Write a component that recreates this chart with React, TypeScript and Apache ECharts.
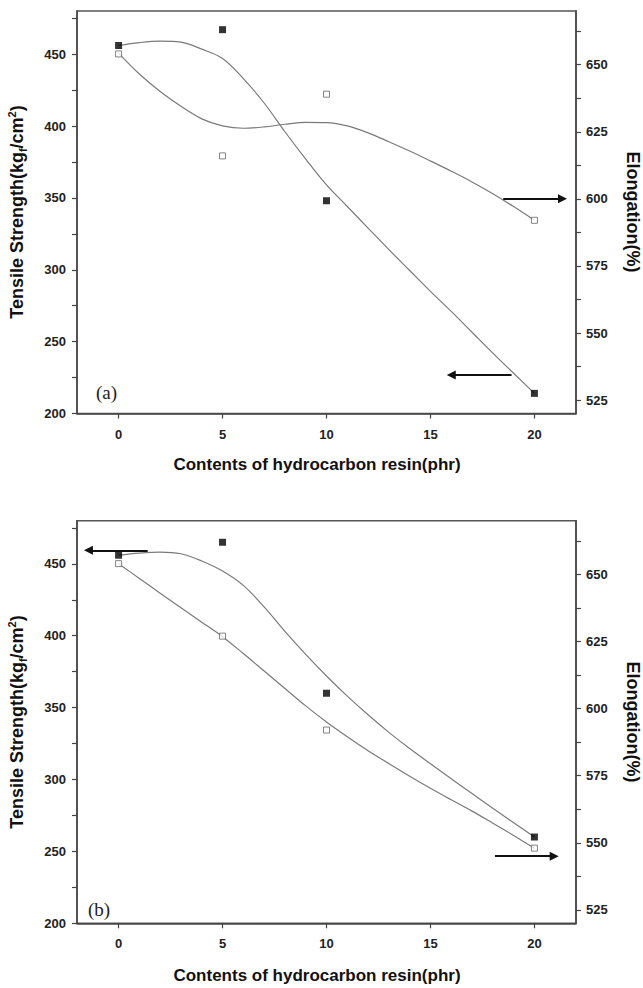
import React, { useEffect, useRef } from 'react';
import * as echarts from 'echarts';

// Measured data points (x = contents of hydrocarbon resin, phr)
const xValues = [0, 5, 10, 20];
const tensileA = [456, 467, 348, 214];
const elongationA = [654, 616, 639, 592];
const tensileB = [456, 465, 360, 260];
const elongationB = [654, 627, 592, 548];

const fitX = [0, 1, 2, 3, 4, 5, 6, 7, 8, 9, 10, 11, 12, 13, 14, 15, 16, 17, 18, 19, 20];
const fitTensileA = [456, 458, 459, 458.3, 453.5, 447, 433, 416, 396, 377, 359, 344, 329, 314, 299.5, 285, 271, 256.5, 242, 228, 214];
const fitElongationA = [654.3, 646.5, 640, 634.5, 629.8, 627.2, 626.3, 626.8, 627.8, 628.5, 628.4, 627.2, 624.6, 621.3, 617.8, 614.1, 610.3, 606.3, 601.9, 597.1, 592];
const fitTensileB = [456, 457.5, 458.2, 457, 452, 445, 435, 420, 403, 387, 372, 358, 345, 332.8, 321.5, 310.9, 300.5, 290.2, 280, 270, 260];
const fitElongationB = [654, 648.5, 643, 637.6, 632.2, 626.8, 620.5, 614, 607.5, 601, 595, 589.5, 584.3, 579.5, 574.8, 570.3, 566, 561.8, 557.3, 552.7, 548];

// Axis ticks
const xTicks = [0, 5, 10, 15, 20];
const leftTicks = [200, 250, 300, 350, 400, 450];
const leftMinorTicks = [225, 275, 325, 375, 425, 475];
const rightTicks = [525, 550, 575, 600, 625, 650];
const rightMinorTicks = [537.5, 562.5, 587.5, 612.5, 637.5, 662.5];

// Arrow annotations: [fromX, toX, y]
const arrowA_left = [18.9, 16.0, 226.7];
const arrowA_right = [18.5, 21.35, 600];
const arrowB_left = [1.4, -1.45, 459.4];
const arrowB_right = [18.1, 20.95, 545];

const FONT = "'Liberation Sans', Arial, Helvetica, sans-serif";
const AXIS_COLOR = '#444';

function pairs(xs: number[], ys: number[]) {
  return xs.map((x, i) => [x, ys[i]]);
}

function arrowMark(a: number[]) {
  return {
    silent: true,
    symbol: ['none', 'triangle'],
    symbolSize: 9,
    label: { show: false },
    emphasis: { disabled: true },
    lineStyle: { color: '#111', width: 1.8, type: 'solid' },
    itemStyle: { color: '#111' },
    data: [[{ coord: [a[0], a[2]] }, { coord: [a[1], a[2]] }]],
  };
}

export default function App() {
  const ref = useRef<HTMLDivElement>(null);

  useEffect(() => {
    if (!ref.current) return;
    const chart = echarts.init(ref.current, null, { renderer: 'svg' });

    const tickLabel = {
      fontSize: 13,
      fontWeight: 'bold',
      color: '#222',
      fontFamily: FONT,
    };

    const grids = [
      { left: 77, width: 499, top: 11, height: 402.5 },
      { left: 77, width: 499, top: 520.7, height: 402.6 },
    ].map((g) => ({
      ...g,
      show: true,
      borderColor: '#555',
      borderWidth: 1.5,
      backgroundColor: 'transparent',
    }));

    const xAxes = [0, 1].map((g) => ({
      type: 'value',
      gridIndex: g,
      min: -2,
      max: 22,
      axisLine: { show: true, onZero: false, lineStyle: { color: AXIS_COLOR, width: 1.5 } },
      axisTick: { show: true, customValues: xTicks, length: 5, lineStyle: { color: AXIS_COLOR, width: 1.2 } },
      axisLabel: { ...tickLabel, customValues: xTicks, margin: 14 },
      splitLine: { show: false },
    }));

    const yAxes: any[] = [];
    [0, 1].forEach((g) => {
      yAxes.push({
        type: 'value',
        gridIndex: g,
        position: 'left',
        min: 200,
        max: 480,
        axisLine: { show: true, onZero: false, lineStyle: { color: AXIS_COLOR, width: 1.5 } },
        axisTick: { show: true, customValues: [...leftTicks, ...leftMinorTicks], length: 5, lineStyle: { color: AXIS_COLOR, width: 1.2 } },
        axisLabel: { ...tickLabel, customValues: leftTicks, margin: 11 },
        splitLine: { show: false },
      });
      yAxes.push({
        type: 'value',
        gridIndex: g,
        position: 'right',
        min: 520,
        max: 670,
        axisLine: { show: true, onZero: false, lineStyle: { color: AXIS_COLOR, width: 1.5 } },
        axisTick: { show: true, customValues: [...rightTicks, ...rightMinorTicks], length: 5, lineStyle: { color: AXIS_COLOR, width: 1.2 } },
        axisLabel: { ...tickLabel, customValues: rightTicks, margin: 10 },
        splitLine: { show: false },
      });
    });

    const curve = (g: number, yIdx: number, ys: number[]) => ({
      type: 'line',
      xAxisIndex: g,
      yAxisIndex: yIdx,
      data: pairs(fitX, ys),
      smooth: 0.35,
      symbol: 'none',
      showSymbol: false,
      silent: true,
      z: 2,
      lineStyle: { color: '#7a7a7a', width: 1.2 },
    });

    const filled = (g: number, yIdx: number, ys: number[], arrow: number[]) => ({
      type: 'scatter',
      xAxisIndex: g,
      yAxisIndex: yIdx,
      data: pairs(xValues, ys),
      symbol: 'rect',
      symbolSize: 7,
      z: 5,
      itemStyle: { color: '#000' },
      markLine: arrowMark(arrow),
    });

    const open = (g: number, yIdx: number, ys: number[], arrow: number[]) => ({
      type: 'scatter',
      xAxisIndex: g,
      yAxisIndex: yIdx,
      data: pairs(xValues, ys),
      symbol: 'rect',
      symbolSize: 6,
      z: 5,
      itemStyle: { color: '#fff', borderColor: '#666', borderWidth: 1 },
      markLine: arrowMark(arrow),
    });

    const titleFont = { fontSize: 18, fontWeight: 'bold', fontFamily: FONT, fill: '#111' };
    const yTitleRich = {
      sub: { fontSize: 11, fontWeight: 'bold', fontFamily: FONT, verticalAlign: 'bottom', lineHeight: 22 },
      sup: { fontSize: 11, fontWeight: 'bold', fontFamily: FONT, verticalAlign: 'top', lineHeight: 22 },
    };

    const graphicTexts: any[] = [];
    [
      { cy: 212, panel: '(a)', px: 96, py: 392, xt: 464 },
      { cy: 722, panel: '(b)', px: 88, py: 909, xt: 975 },
    ].forEach((p) => {
      graphicTexts.push({
        type: 'text',
        x: 17,
        y: p.cy,
        rotation: Math.PI / 2,
        style: {
          text: 'Tensile Strength(kg{sub|f}/cm{sup|2})',
          ...titleFont,
          lineHeight: 22,
          rich: yTitleRich,
          align: 'center',
          verticalAlign: 'middle',
        },
      });
      graphicTexts.push({
        type: 'text',
        x: 633,
        y: p.cy,
        rotation: -Math.PI / 2,
        style: { text: 'Elongation(%)', ...titleFont, align: 'center', verticalAlign: 'middle' },
      });
      graphicTexts.push({
        type: 'text',
        x: 317,
        y: p.xt,
        style: { text: 'Contents of hydrocarbon resin(phr)', ...titleFont, fontSize: 17, align: 'center', verticalAlign: 'middle' },
      });
      graphicTexts.push({
        type: 'text',
        x: p.px,
        y: p.py,
        style: {
          text: p.panel,
          fontSize: 19,
          fontFamily: "'Liberation Serif', 'Times New Roman', serif",
          fill: '#222',
          align: 'left',
          verticalAlign: 'middle',
        },
      });
    });

    chart.setOption({
      animation: false,
      backgroundColor: '#fff',
      grid: grids,
      xAxis: xAxes,
      yAxis: yAxes,
      series: [
        curve(0, 0, fitTensileA),
        curve(0, 1, fitElongationA),
        curve(1, 2, fitTensileB),
        curve(1, 3, fitElongationB),
        filled(0, 0, tensileA, arrowA_left),
        open(0, 1, elongationA, arrowA_right),
        filled(1, 2, tensileB, arrowB_left),
        open(1, 3, elongationB, arrowB_right),
      ],
      graphic: graphicTexts,
    });

    return () => chart.dispose();
  }, []);

  return (
    <div
      ref={ref}
      style={{ position: 'fixed', left: 0, top: 0, width: 643, height: 988, background: '#fff' }}
    />
  );
}
